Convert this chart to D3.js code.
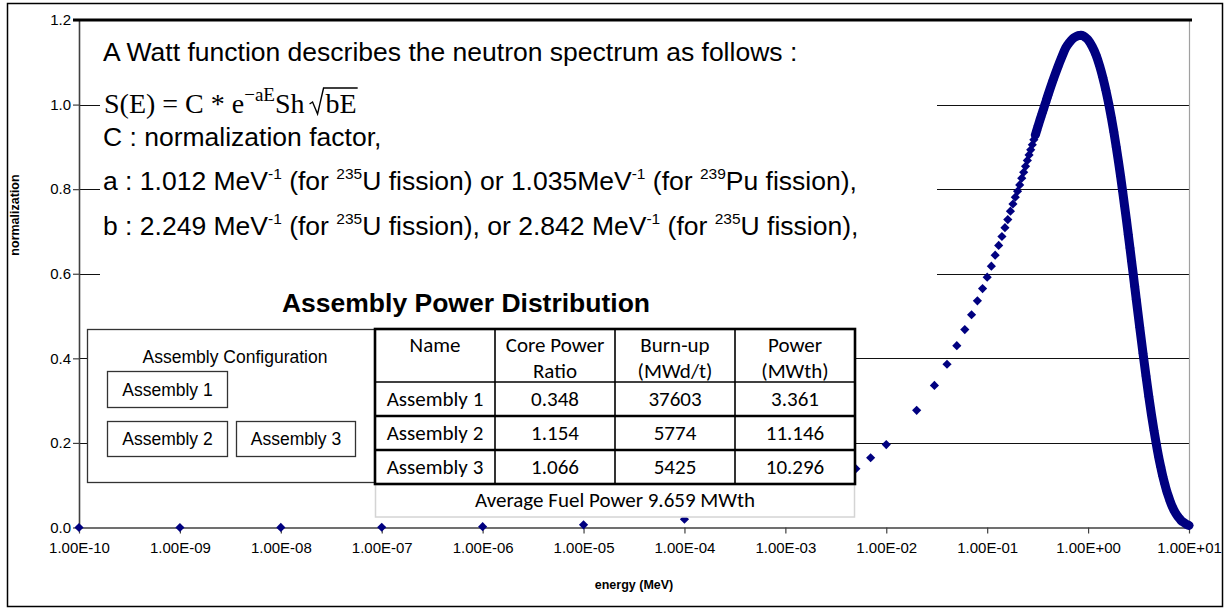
<!DOCTYPE html>
<html><head><meta charset="utf-8">
<script src="https://cdn.jsdelivr.net/npm/d3@7"></script>
<style>body{margin:0;background:#fff} svg{display:block}</style>
</head><body>
<svg id="c" width="1231" height="614"></svg>
<script>
// ---------------- data ----------------
const energyMeV = [1e-10,1e-9,1e-8,1e-7,1e-6,1e-5,1e-4,1e-3,0.003,0.005,0.007,
  0.01,0.02,0.03,0.04,0.05,0.06,0.07,0.08,0.09,0.10,
  0.11,0.12,0.13,0.14,0.15,0.16,0.17,0.18,0.19,0.20,
  0.21,0.22,0.23,0.24,0.25,0.26,0.27,0.28,0.29,0.30,
  0.31,0.32,0.33,0.34,0.35,0.36,0.37,0.38,0.39,0.40,
  0.45,0.50,0.55,0.60,0.65,0.70,0.75,0.80,0.85,0.90,0.95,1.00,
  1.1,1.2,1.3,1.4,1.5,1.6,1.7,1.8,1.9,2.0,
  2.1,2.2,2.3,2.4,2.5,2.6,2.7,2.8,2.9,3.0,
  3.25,3.5,3.75,4.0,4.25,4.5,4.75,5.0,5.25,5.5,5.75,6.0,6.25,6.5,6.75,7.0,
  7.25,7.5,7.75,8.0,8.25,8.5,8.75,9.0,9.25,9.5,9.75,10];
const normalization = [0,0.0001,0.0002,0.0006,0.002,0.0063,0.0198,0.063,0.108,0.139,0.165,
  0.196,0.277,0.336,0.386,0.430,0.468,0.503,0.536,0.565,0.592,
  0.618,0.644,0.667,0.688,0.709,0.728,0.748,0.765,0.781,0.795,
  0.810,0.826,0.840,0.854,0.868,0.881,0.893,0.905,0.917,0.928,
  0.939,0.950,0.960,0.970,0.979,0.988,0.997,1.005,1.014,1.022,
  1.058,1.088,1.113,1.134,1.146,1.155,1.160,1.163,1.164,1.162,1.158,1.153,
  1.137,1.117,1.092,1.064,1.034,1.002,0.969,0.935,0.900,0.865,
  0.830,0.795,0.760,0.727,0.693,0.661,0.629,0.599,0.569,0.540,
  0.473,0.412,0.358,0.309,0.266,0.229,0.196,0.167,0.143,0.121,0.103,0.087,0.074,0.062,0.052,0.044,
  0.037,0.031,0.026,0.022,0.018,0.015,0.013,0.011,0.009,0.007,0.006,0.005];

const xTickValues = [1e-10,1e-9,1e-8,1e-7,1e-6,1e-5,1e-4,1e-3,1e-2,1e-1,1,10];
const xTickLabels = ["1.00E-10","1.00E-09","1.00E-08","1.00E-07","1.00E-06","1.00E-05",
  "1.00E-04","1.00E-03","1.00E-02","1.00E-01","1.00E+00","1.00E+01"];
const yTickValues = [0,0.2,0.4,0.6,0.8,1.0,1.2];
const yTickLabels = ["0.0","0.2","0.4","0.6","0.8","1.0","1.2"];

const tableHeader = [["Name"],["Core Power","Ratio"],["Burn-up","(MWd/t)"],["Power","(MWth)"]];
const assemblyNames = ["Assembly 1","Assembly 2","Assembly 3"];
const corePowerRatio = ["0.348","1.154","1.066"];
const burnUp = ["37603","5774","5425"];
const assemblyPower = ["3.361","11.146","10.296"];
const averageLabel = "Average Fuel Power 9.659 MWth";
const configTitle = "Assembly Configuration";

// ---------------- setup ----------------
const W = 1231, H = 614;
const svg = d3.select("#c");
const P = {left:79, right:1189, top:20, bottom:527.5};
const x = d3.scaleLog().domain([1e-10,10]).range([P.left,P.right]);
const y = d3.scaleLinear().domain([0,1.2]).range([P.bottom,P.top]);
const SANS = "'Liberation Sans', Arial, sans-serif";
const SERIF = "'Liberation Serif', 'Times New Roman', serif";
const CAL = "Carlito, Calibri, Lato, sans-serif";
const NAVY = "#000080";

svg.append("rect").attr("width",W).attr("height",H).attr("fill","#fff");
svg.append("rect").attr("x",7.5).attr("y",3.5).attr("width",1215).attr("height",603)
  .attr("fill","none").attr("stroke","#000").attr("stroke-width",1.5);

// gridlines
svg.append("g").selectAll("line").data(yTickValues.filter(v=>v>0 && v<1.2)).join("line")
  .attr("x1",P.left).attr("x2",P.right)
  .attr("y1",d=>Math.round(y(d))+0.5).attr("y2",d=>Math.round(y(d))+0.5)
  .attr("stroke","#111").attr("stroke-width",1);
// right plot border
svg.append("line").attr("x1",P.right+0.5).attr("x2",P.right+0.5).attr("y1",P.top).attr("y2",P.bottom)
  .attr("stroke","#a0a0a0").attr("stroke-width",1.2);

// axes
const yAxis = svg.append("g").attr("transform",`translate(${P.left},0)`)
  .call(d3.axisLeft(y).tickValues(yTickValues).tickFormat((d,i)=>yTickLabels[i]).tickSize(6).tickSizeOuter(0).tickPadding(2));
const xAxis = svg.append("g").attr("transform",`translate(0,${P.bottom})`)
  .call(d3.axisBottom(x).tickValues(xTickValues).tickFormat((d,i)=>xTickLabels[i]).tickSize(6).tickSizeOuter(0).tickPadding(9));
[yAxis,xAxis].forEach(a=>{
  a.attr("font-size",15).attr("font-family",SANS);
  a.select(".domain").attr("stroke","#404040").attr("stroke-width",1.6);
  a.selectAll(".tick line").attr("stroke","#404040").attr("stroke-width",1.2);
  a.selectAll(".tick text").attr("font-family",SANS).attr("font-size",15).attr("fill","#000");
});

svg.append("text").attr("transform","translate(19,215) rotate(-90)").attr("text-anchor","middle")
  .attr("font-family",SANS).attr("font-weight","bold").attr("font-size",12.5).text("normalization");
svg.append("text").attr("x",634).attr("y",589).attr("text-anchor","middle")
  .attr("font-family",SANS).attr("font-weight","bold").attr("font-size",12.5).text("energy (MeV)");

// data
const pts = energyMeV.map((e,i)=>({e, v:normalization[i]}));
svg.append("path").datum(pts.filter(d=>d.e>=0.3))
  .attr("d",d3.line().x(d=>x(d.e)).y(d=>y(d.v)).curve(d3.curveMonotoneX))
  .attr("fill","none").attr("stroke",NAVY).attr("stroke-width",9)
  .attr("stroke-linecap","round").attr("stroke-linejoin","round");
const sym = d3.symbol().type(d3.symbolSquare).size(42);
svg.append("g").selectAll("path").data(pts).join("path")
  .attr("d",sym).attr("fill",NAVY)
  .attr("transform",d=>`translate(${x(d.e)},${y(d.v)}) rotate(45)`);

// ---------------- overlay text box ----------------
svg.append("rect").attr("x",100).attr("y",24).attr("width",837).attr("height",268).attr("fill","#fff");
const FS = 26.5, SUP = 15.5;
function line(yb, parts){
  const t = svg.append("text").attr("x",103).attr("y",yb).attr("font-family",SANS).attr("font-size",FS)
    .attr("fill","#000").style("white-space","pre");
  let shift = 0;
  parts.forEach(p=>{
    if (typeof p === "string") {
      const s = t.append("tspan").attr("font-size",FS).text(p);
      if (shift) { s.attr("dy",shift); shift = 0; }
    } else {
      t.append("tspan").attr("font-size",SUP).attr("dy",-11).text(p.sup);
      shift = 11;
    }
  });
  return t;
}
line(61, ["A Watt function describes the neutron spectrum as follows :"]);
line(146, ["C : normalization factor,"]);
line(190, ["a : 1.012 MeV",{sup:"-1"}," (for ",{sup:"235"},"U fission) or 1.035MeV",{sup:"-1"}," (for ",{sup:"239"},"Pu fission),"]);
line(235, ["b : 2.249 MeV",{sup:"-1"}," (for ",{sup:"235"},"U fission), or 2.842 MeV",{sup:"-1"}," (for ",{sup:"235"},"U fission),"]);

// formula
const fb = 113, fx = 104;
const ft = svg.append("text").attr("x",fx).attr("y",fb).attr("font-family",SERIF).attr("font-size",28).attr("fill","#000")
  .style("white-space","pre");
ft.append("tspan").text("S(E) = C * e");
ft.append("tspan").attr("font-size",19).attr("dy",-12).text("\u2212aE");
ft.append("tspan").attr("dy",12).text("Sh");
const fl = ft.node().getComputedTextLength();
const rx = fx + fl + 5;
const bt = svg.append("text").attr("x",rx+16).attr("y",fb).attr("font-family",SERIF).attr("font-size",28).text("bE");
const bw = bt.node().getComputedTextLength();
svg.append("path").attr("d",`M${rx},${fb-9} L${rx+3},${fb-11} L${rx+8},${fb+1} L${rx+14},${fb-25} H${rx+16+bw+1}`)
  .attr("fill","none").attr("stroke","#000").attr("stroke-width",1.4);

// title
svg.append("text").attr("x",466).attr("y",312).attr("text-anchor","middle")
  .attr("font-family",SANS).attr("font-weight","bold").attr("font-size",26.5).text("Assembly Power Distribution");

// ---------------- left panel ----------------
svg.append("rect").attr("x",87.5).attr("y",329.5).attr("width",288).attr("height",153)
  .attr("fill","#fff").attr("stroke","#333").attr("stroke-width",1.3);
svg.append("text").attr("x",235).attr("y",363).attr("text-anchor","middle")
  .attr("font-family",SANS).attr("font-size",17.5).text(configTitle);
const boxes = [{x:107.5,y:371.5,w:120,h:36},{x:107.5,y:421.5,w:120,h:35},{x:236.5,y:421.5,w:119,h:35}];
boxes.forEach((b,i)=>{
  svg.append("rect").attr("x",b.x).attr("y",b.y).attr("width",b.w).attr("height",b.h)
    .attr("fill","#fff").attr("stroke","#333").attr("stroke-width",1.3);
  svg.append("text").attr("x",b.x+b.w/2).attr("y",b.y+b.h/2+6.3).attr("text-anchor","middle")
    .attr("font-family",SANS).attr("font-size",17.5).text(assemblyNames[i]);
});

// ---------------- table ----------------
const TF = 21;
const cols = [375,495,615,735,855];
const rows = [329,382,416,450,484];
svg.append("rect").attr("x",375).attr("y",329).attr("width",480).attr("height",188).attr("fill","#fff");
// average row
svg.append("rect").attr("x",375.5).attr("y",484).attr("width",479).attr("height",33)
  .attr("fill","#fff").attr("stroke","#d4d4d4").attr("stroke-width",1.5);
svg.append("text").attr("x",615).attr("y",507).attr("text-anchor","middle")
  .attr("font-family",CAL).attr("font-size",TF).text(averageLabel);
// header
tableHeader.forEach((h,i)=>{
  const cx = (cols[i]+cols[i+1])/2;
  h.forEach((s,j)=>svg.append("text").attr("x",cx).attr("y",352+j*26).attr("text-anchor","middle")
    .attr("font-family",CAL).attr("font-size",TF).text(s));
});
const body = [assemblyNames, corePowerRatio, burnUp, assemblyPower];
for (let r=0;r<3;r++){
  for (let c=0;c<4;c++){
    svg.append("text").attr("x",(cols[c]+cols[c+1])/2).attr("y",(rows[r+1]+rows[r+2])/2+7)
      .attr("text-anchor","middle").attr("font-family",CAL).attr("font-size",TF).text(body[c][r]);
  }
}
// grid lines of table
cols.slice(1,4).forEach(cx=>svg.append("line").attr("x1",cx).attr("x2",cx).attr("y1",rows[0]).attr("y2",rows[4])
  .attr("stroke","#000").attr("stroke-width",1.6));
svg.append("line").attr("x1",375).attr("x2",855).attr("y1",382).attr("y2",382).attr("stroke","#000").attr("stroke-width",1.6);
[416,450].forEach(ry=>svg.append("line").attr("x1",375).attr("x2",855).attr("y1",ry).attr("y2",ry)
  .attr("stroke","#000").attr("stroke-width",2.6));
svg.append("rect").attr("x",375).attr("y",329).attr("width",480).attr("height",155)
  .attr("fill","none").attr("stroke","#000").attr("stroke-width",2.6);

// top thick line at 1.2
svg.append("line").attr("x1",73).attr("x2",1192).attr("y1",y(1.2)).attr("y2",y(1.2))
  .attr("stroke","#000").attr("stroke-width",3);
</script>
</body></html>
